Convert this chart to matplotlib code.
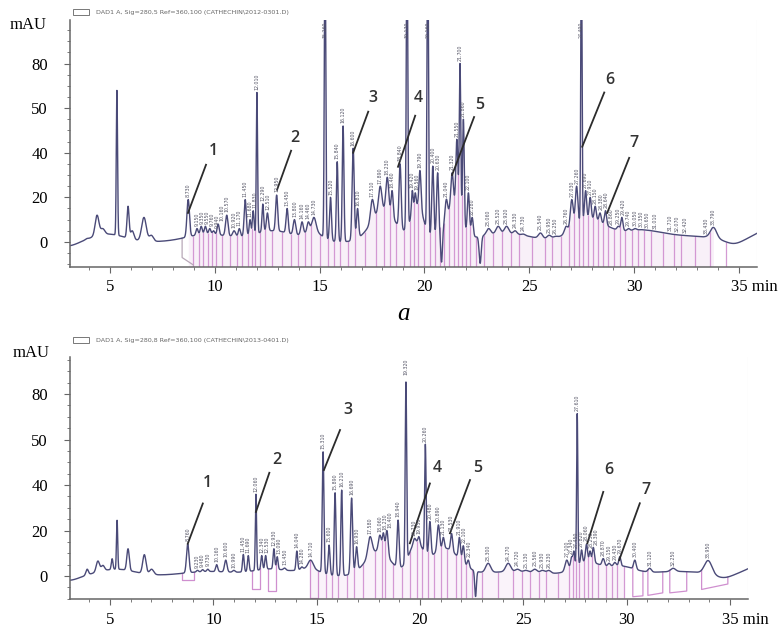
import numpy as np
import matplotlib
matplotlib.use("Agg")
import matplotlib.pyplot as plt
from matplotlib.patches import Rectangle
from matplotlib.ticker import FixedLocator, MultipleLocator
from matplotlib.transforms import ScaledTranslation

# ---- chromatogram a (top): peaks: time (min), apex (mAU), width (sigma, min)
top_peak_t = [3.89, 4.38, 4.65, 5.33, 5.86, 6.06, 6.62, 6.97,
              8.73, 9.15, 9.35, 9.55, 9.76, 9.94, 10.16, 10.57, 10.92, 11.17, 11.45, 11.68,
              11.83, 12.01, 12.29, 12.51, 12.95, 13.45, 13.80, 14.16, 14.46, 14.73, 15.26,
              15.52, 15.84, 16.12, 16.60, 16.81, 17.51, 17.89, 18.23, 18.46, 18.84, 19.17,
              19.42, 19.56, 19.79, 20.16, 20.40, 20.63, 20.82, 21.04, 21.32, 21.55, 21.70,
              21.86, 22.10, 22.28, 22.66, 23.06, 23.52, 23.92, 24.33, 24.73, 25.54, 25.95,
              26.25, 26.76, 27.03, 27.26, 27.49, 27.69, 27.91, 28.15, 28.38, 28.64, 28.86,
              29.25, 29.42, 29.74, 30.05, 30.35, 30.65, 31.01, 31.71, 32.07, 32.42, 33.43, 33.79]
top_peak_h = [1.5, 12, 6, 68, 16, 5, 11, 3,
              19, 6, 7, 7, 6, 5, 8, 12, 5, 6, 19, 10,
              14, 67, 17, 13, 21, 15, 10, 9, 9, 11, 135,
              20, 36, 52, 42, 15, 19, 25, 29, 23, 35, 140,
              23, 22, 32, 140, 34, 31, -9, 19, 31, 46, 80,
              55, 22, 11, -9.6, 6, 7, 7, 5, 3.5, 4, 3,
              2.5, 7, 19, 25, 135, 23, 20, 16, 13, 14, 5.5,
              7, 11, 6, 6, 5.5, 5, 4, 2.5, 2.5, 2.5, 2.5, 6.5]
top_peak_w = [0.06, 0.09, 0.1, 0.03, 0.05, 0.08, 0.11, 0.1,
              0.06, 0.05, 0.05, 0.05, 0.05, 0.05, 0.05, 0.06, 0.07, 0.05, 0.05, 0.04,
              0.04, 0.03, 0.04, 0.05, 0.05, 0.05, 0.06, 0.06, 0.06, 0.1, 0.035,
              0.045, 0.04, 0.04, 0.05, 0.05, 0.08, 0.08, 0.07, 0.05, 0.05, 0.035,
              0.04, 0.04, 0.05, 0.035, 0.05, 0.05, 0.04, 0.06, 0.06, 0.05, 0.035,
              0.04, 0.05, 0.05, 0.05, 0.1, 0.1, 0.1, 0.08, 0.08, 0.1, 0.1,
              0.1, 0.08, 0.07, 0.06, 0.03, 0.05, 0.05, 0.05, 0.05, 0.05, 0.06,
              0.06, 0.05, 0.06, 0.07, 0.07, 0.07, 0.08, 0.1, 0.1, 0.1, 0.1, 0.15]
# broad baseline humps under the peaks
top_base_t = [2.98, 4.9, 9.65, 12.79, 14.71, 18.05, 19.67, 21.39, 23.82, 27.87, 30.2, 32.52, 34.75, 36.77]
top_base_h = [-2.0, 3.5, 3.5, 5, 4, 14, 16, 16, 4, 10, 4.5, 2.5, -1.8, 7]
top_base_w = [0.5, 0.8, 1.0, 1.0, 0.4, 0.6, 0.3, 0.35, 1.2, 0.8, 1.0, 1.5, 0.4, 0.8]
top_start = 8.6  # integration starts here

# ---- chromatogram b (bottom)
bot_peak_t = [3.89, 4.41, 4.65, 5.10, 5.34, 5.87, 6.66, 7.01,
              8.76, 9.23, 9.48, 9.73, 10.16, 10.60, 10.99, 11.45, 11.69, 12.06, 12.34,
              12.53, 12.93, 13.09, 13.45, 14.04, 14.28, 14.71, 15.31, 15.60, 15.89, 16.21,
              16.69, 16.93, 17.58, 18.06, 18.23, 18.40, 18.94, 19.32, 19.73, 19.95, 20.26,
              20.48, 20.89, 21.13, 21.53, 21.91, 22.10, 22.34, 22.69, 23.30, 24.27, 24.72,
              25.13, 25.56, 25.93, 26.23, 27.10, 27.34, 27.45, 27.61, 27.82, 28.06, 28.23,
              28.39, 28.87, 29.15, 29.43, 29.67, 30.40, 31.12, 32.25, 33.95]
bot_peak_h = [3, 6.6, 4.7, 7.6, 24.5, 12, 9.4, 3,
              14, 2.5, 2.8, 3, 5, 7, 2.5, 9.5, 9, 36, 9,
              9, 12, 8.5, 3.5, 11, 4, 7, 54.6, 13.6, 36.6, 37.8,
              34.3, 12.9, 17.3, 18, 19, 20, 24.6, 85.4, 16.5, 17.3, 58,
              24, 22.5, 17, 18.7, 17, 13.3, 7, -9, 5.6, 5.6, 3,
              2.5, 3, 2.5, 2.5, 7, 8.5, 11, 71.4, 11.5, 14, 11,
              12.6, 7.7, 5.6, 6, 8.5, 7, 3.4, 3.4, 6.8]
bot_peak_w = [0.06, 0.08, 0.08, 0.04, 0.03, 0.06, 0.08, 0.1,
              0.06, 0.05, 0.05, 0.05, 0.05, 0.06, 0.06, 0.04, 0.04, 0.03, 0.04,
              0.04, 0.04, 0.04, 0.06, 0.04, 0.05, 0.12, 0.04, 0.045, 0.04, 0.04,
              0.05, 0.05, 0.1, 0.07, 0.05, 0.06, 0.05, 0.035, 0.06, 0.05, 0.035,
              0.05, 0.06, 0.05, 0.05, 0.05, 0.05, 0.05, 0.04, 0.12, 0.12, 0.1,
              0.1, 0.1, 0.1, 0.1, 0.08, 0.05, 0.04, 0.03, 0.04, 0.05, 0.04,
              0.05, 0.06, 0.06, 0.06, 0.05, 0.06, 0.08, 0.12, 0.18]
bot_base_t = [3.0, 5.3, 9.83, 12.85, 14.66, 17.98, 19.79, 21.2, 24.62, 28.04, 29.65, 32.47, 34.69, 36.8]
bot_base_h = [-2.0, 3, 2, 3, 3, 11, 13, 12, 2, 6, 4, 2, -1.5, 6]
bot_base_w = [0.5, 0.9, 1.3, 0.9, 0.5, 0.6, 0.35, 0.7, 1.6, 0.6, 0.7, 1.5, 0.4, 0.8]
bot_drop_range = (15.0, 30.0)
# integration boxes: start, end, baseline at start, baseline at end
bot_box_t0 = [8.47, 11.87, 12.64, 14.68, 30.30, 31.03, 32.09, 33.63]
bot_box_t1 = [9.08, 12.26, 13.03, 15.06, 30.79, 31.75, 32.91, 34.90]
bot_box_b0 = [-1.6, -5.9, -6.6, -9.8, -9.1, -8.5, -7.4, -5.9]
bot_box_b1 = [-1.6, -5.9, -6.6, -9.8, -8.7, -7.4, -6.6, -3.5]

# compound numbers: label, text (t, mAU), line start, line end
top_marks = [("1", 9.92, 40.9, 9.58, 34.6, 8.72, 13.0),
             ("2", 13.83, 46.7, 13.64, 40.9, 12.97, 23.4),
             ("3", 17.55, 64.7, 17.32, 58.4, 16.60, 40.0),
             ("4", 19.70, 64.7, 19.56, 56.6, 18.74, 33.7),
             ("5", 22.66, 61.6, 22.37, 56.0, 21.32, 30.0),
             ("6", 28.86, 72.8, 28.58, 67.0, 27.53, 42.7),
             ("7", 29.99, 44.5, 29.77, 37.7, 28.72, 13.0)]
bot_marks = [("1", 9.71, 40.7, 9.49, 31.9, 8.76, 14.2),
             ("2", 13.06, 51.2, 12.71, 45.4, 12.06, 28.2),
             ("3", 16.53, 73.0, 16.13, 64.2, 15.35, 46.6),
             ("4", 20.84, 47.3, 20.48, 40.7, 19.51, 14.4),
             ("5", 22.77, 47.3, 22.42, 42.2, 21.45, 18.8),
             ("6", 29.15, 46.6, 28.87, 37.0, 28.10, 14.4),
             ("7", 30.96, 38.0, 30.64, 32.0, 29.64, 7.0)]

y_ticks = [0, 20, 40, 60, 80]
y_tick_labels = ["0", "20", "40", "50", "80"]
x_ticks = [5, 10, 15, 20, 25, 30, 35]
x_tick_labels = ["5", "10", "15", "20", "25", "30", "35 min"]

TRACE = "#4a4a78"
PINK = "#cf8fcf"
SERIF = "Liberation Serif"


def gauss(x, t, w):
    return np.exp(-0.5 * ((x - t) / w) ** 2)


def build_trace(x, pt, ph, pw, bt, bh, bw):
    pt, ph, pw = np.asarray(pt), np.asarray(ph, float), np.asarray(pw)
    base = lambda z: sum(h * gauss(z, t, w) for t, h, w in zip(bt, bh, bw))
    G = gauss(pt[:, None], pt[None, :], pw[None, :])
    goal = ph - base(pt)
    amp = goal.copy()
    for _ in range(400):
        amp += 0.5 * (goal - G @ amp)
        amp = np.where(ph > 0, np.maximum(amp, 0), amp)
    y = base(x) + gauss(x[:, None], pt[None, :], pw[None, :]) @ amp
    return y


def style_axes(ax, xlim, ylim):
    ax.set_xlim(*xlim)
    ax.set_ylim(*ylim)
    for s in ["top", "right"]:
        ax.spines[s].set_visible(False)
    for s in ["left", "bottom"]:
        ax.spines[s].set_color("#666666")
        ax.spines[s].set_linewidth(1.1)
    ax.yaxis.set_major_locator(FixedLocator(y_ticks))
    ax.set_yticklabels(y_tick_labels)
    ax.yaxis.set_minor_locator(MultipleLocator(5))
    ax.xaxis.set_major_locator(FixedLocator(x_ticks))
    ax.set_xticklabels(x_tick_labels)
    ax.xaxis.set_minor_locator(MultipleLocator(1))
    ax.tick_params(axis="y", which="major", length=4, pad=12, color="#666666",
                   labelsize=12)
    ax.tick_params(axis="x", which="major", length=4, pad=5, color="#666666",
                   labelsize=12)
    ax.tick_params(which="minor", length=2, color="#666666")
    for lbl in ax.get_xticklabels() + ax.get_yticklabels():
        lbl.set_fontfamily(SERIF)
    last = ax.get_xticklabels()[-1]
    last.set_horizontalalignment("left")
    last.set_transform(last.get_transform() + ScaledTranslation(-0.08, 0, fig.dpi_scale_trans))
    ax.axvline(xlim[1], color="#e4e4e4", lw=0.8)


def rt_labels(ax, x, y, pt, ph, t0, t1, ytop):
    # retention-time labels above each integrated peak; close neighbours are nudged sideways
    placed = []
    span = 8.5
    for t, h in zip(pt, ph):
        if h <= 0 or t < t0 or t > t1:
            continue
        apex = np.interp(t, x, y)
        top = apex > ytop - 14
        yb = ytop - 0.5 - span if top else apex + 1.2
        xl = t
        for px, py in placed:
            if abs(xl - px) < 0.24 and abs(yb - py) < span:
                xl = px + 0.24
        placed.append((xl, yb))
        if top:
            ax.text(xl, ytop - 0.5, f"{t:.3f}", rotation=90, fontsize=3.4, color="#555566",
                    ha="center", va="top")
        else:
            ax.text(xl, yb, f"{t:.3f}", rotation=90, fontsize=3.4, color="#555566",
                    ha="center", va="bottom")


def marks(ax, items):
    for lab, tx, ty, x0, y0, x1, y1 in items:
        ax.plot([x0, x1], [y0, y1], color="#2b2b2b", lw=1.3)
        ax.text(tx, ty, lab, fontsize=11.5, color="#333333", ha="center", va="center",
                family="Open Sans", weight="semibold")


def legend(fig, ax, text, gap):
    bb = ax.get_position()
    y = bb.y1 + gap
    fig.add_artist(Rectangle((bb.x0 + 0.004, y - 0.0045), 0.02, 0.009,
                             transform=fig.transFigure, fill=False, ec="#777777", lw=0.7))
    fig.text(bb.x0 + 0.033, y, text, fontsize=4.6, color="#666666", va="center", ha="left")


fig = plt.figure(figsize=(7.81, 6.30), dpi=100)
x = np.linspace(3.0, 36.0, 9000)

# ---------------- panel a ----------------
ax1 = fig.add_axes([0.0896, 0.5767, 0.880, 0.3915])
xl1, yl1 = (3.09, 35.88), (-11.1, 99.5)
y1 = build_trace(x, top_peak_t, top_peak_h, top_peak_w, top_base_t, top_base_h, top_base_w)
integ = [t for t in top_peak_t if t >= top_start]
drops = [(a + b) / 2 for a, b in zip(integ[:-1], integ[1:])] + [integ[-1] + 0.6]
fill_x = x[(x >= integ[0]) & (x <= integ[-1])]
ax1.fill_between(fill_x, yl1[0], np.interp(fill_x, x, y1), color=PINK, alpha=0.13, lw=0)
ax1.vlines(drops, yl1[0], np.interp(drops, x, y1), color=PINK, lw=0.9, alpha=0.9)
ax1.plot([8.44, 8.44, 8.97], [np.interp(8.44, x, y1), -7.0, -10.3], color="#b8a8b8", lw=0.9)
ax1.plot(x, y1, color=TRACE, lw=1.0)
rt_labels(ax1, x, y1, top_peak_t, top_peak_h, top_start, 34.0, yl1[1])
marks(ax1, top_marks)
style_axes(ax1, xl1, yl1)
legend(fig, ax1, r"DAD1 A, Sig=280,5 Ref=360,100 (CATHECHIN\2012-0301.D)", 0.0125)
fig.text(47 / 781, 1 - 25 / 630, "mAU", family=SERIF, fontsize=12, ha="right", va="center")
fig.text(404 / 781, 1 - 314 / 630, "a", family=SERIF, style="italic", fontsize=18,
         ha="center", va="center")

# ---------------- panel b ----------------
ax2 = fig.add_axes([0.0896, 0.0492, 0.868, 0.3841])
xl2, yl2 = (3.06, 35.87), (-10.1, 96.3)
y2 = build_trace(x, bot_peak_t, bot_peak_h, bot_peak_w, bot_base_t, bot_base_h, bot_base_w)
integ2 = [t for t in bot_peak_t if bot_drop_range[0] <= t <= bot_drop_range[1]]
drops2 = [(a + b) / 2 for a, b in zip(integ2[:-1], integ2[1:])] + [integ2[-1] + 0.2]
fill_x2 = x[(x >= bot_box_t0[3]) & (x <= drops2[-1])]
ax2.fill_between(fill_x2, -9.8, np.interp(fill_x2, x, y2), color=PINK, alpha=0.1, lw=0)
ax2.vlines(drops2, -9.8, np.interp(drops2, x, y2), color=PINK, lw=0.9, alpha=0.9)
for t0, t1, b0, b1 in zip(bot_box_t0, bot_box_t1, bot_box_b0, bot_box_b1):
    ax2.plot([t0, t0, t1, t1], [np.interp(t0, x, y2), b0, b1, np.interp(t1, x, y2)],
             color=PINK, lw=0.9)
ax2.plot(x, y2, color=TRACE, lw=1.0)
rt_labels(ax2, x, y2, bot_peak_t, bot_peak_h, 8.5, 34.5, yl2[1])
marks(ax2, bot_marks)
style_axes(ax2, xl2, yl2)
legend(fig, ax2, r"DAD1 A, Sig=280,8 Ref=360,100 (CATHECHIN\2013-0401.D)", 0.027)
fig.text(50 / 781, 1 - 353 / 630, "mAU", family=SERIF, fontsize=12, ha="right", va="center")

fig.savefig("out.png", dpi=100)
